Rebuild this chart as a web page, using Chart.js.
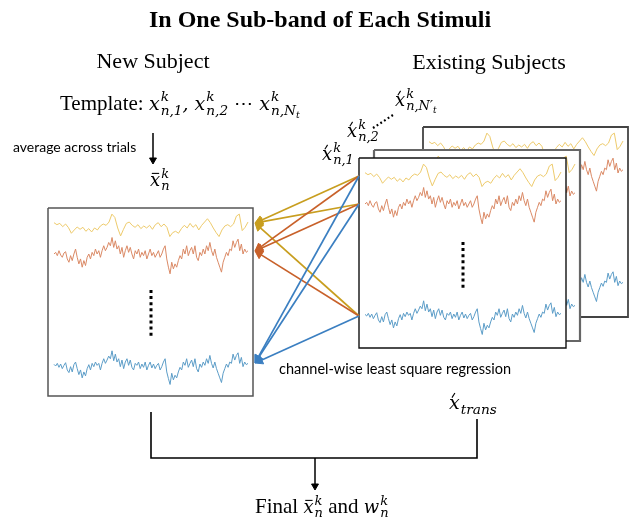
<!DOCTYPE html>
<html>
<head>
<meta charset="utf-8">
<script src="https://cdn.jsdelivr.net/npm/chart.js@4.4.0/dist/chart.umd.min.js"></script>
<style>
  html, body { margin: 0; padding: 0; background: #fff; overflow: hidden; }
  canvas { display: block; }
</style>
</head>
<body>
<canvas id="diagram" width="639" height="525"></canvas>
<script>
// Waveform samples (arbitrary units, up = positive)
const yellowWave = [10, 4, 8, -2, 6, -5, -22, -12, -3, -10, -4, -16, -8, -18, -6, -12, 0, 6, 2, 12, 36, 26, -6, -30,
  -10, 8, 12, 2, -4, 4, -8, 0, -6, 2, -10, 4, 10, -2, 6, -4, -32, -20, -16, -22, -8, 2, -6, 8, -4, 4, -12, 2, 12, 22,
  10, -6, -20, -32, -12, 0, 4, -2, 6, 30, 36, -14, -4, 12];
const orangeWave = [0, 5, -5, 10, -3, -10, 3, 7, -15, -25, -5, -20, 0, 15, -10, -30, -15, -40, -20, -35, -10, 0, -15, 5,
  -5, 15, 0, 10, -10, 10, 25, 10, 20, 35, 25, 50, 20, 40, 15, 25, 0, 20, -10, 10, 25, 5, 20, 0, -15, 10, 0, 15, -10, 5,
  -5, 10, -15, 0, 15, -5, 5, -10, 0, 10, -10, 0, 15, 25, -15, -40, -60, -25, -45, -30, -40, -20, -5, -15, 15, 0, 25, -5,
  10, 20, 0, 25, -10, -20, 5, -5, 15, 0, 25, 10, 35, 10, -5, 15, -10, -25, -40, -55, -25, -10, 5, -5, 15, 10, 40, 20,
  35, 45, 10, 30, 0, 15, 5, 10];
const blueWave = [5, 0, 8, -4, 6, -8, 2, 10, -12, -20, -2, -18, 4, 12, -8, -26, -12, -36, -18, -30, -8, 4, -12, 8, -2,
  12, 2, 8, -12, 8, 22, 8, 18, 30, 22, 46, 16, 36, 12, 22, -2, 18, -8, 12, 22, 2, 18, -4, -12, 8, 2, 12, -8, 6, -4, 12,
  -12, 2, 12, -6, 6, -8, 2, 8, -12, -2, 12, 22, -18, -38, -56, -22, -42, -28, -36, -18, -4, -12, 12, 2, 22, -4, 8, 18,
  -2, 22, -8, -18, 6, -4, 12, 2, 22, 8, 32, 8, -6, 12, -8, -22, -36, -50, -22, -8, 6, -4, 12, 8, 36, 18, 32, 40, 8, 26,
  -2, 12, 4, 8];

const channels = ["yellow", "orange", "blue"];
const waves = { yellow: yellowWave, orange: orangeWave, blue: blueWave };
const waveColors = { yellow: "#EECB6C", orange: "#DB8A66", blue: "#5C9DC8" };
const arrowColors = { yellow: "#C89E1F", orange: "#C8612A", blue: "#3B7FC1" };

// Layout (canvas pixels)
const rowOffsets = { yellow: 18, orange: 46, blue: 158 };
const ampScale = 0.33;
const leftBox = { x: 48, y: 208, w: 205, h: 188, color: "#555", width: 1.5 };
const frontBox = { x: 359, y: 158, w: 207, h: 190, color: "#111", width: 1.4 };
const middleBox = { x: 374, y: 150, w: 206, h: 191, color: "#666", width: 2.2 };
const backBox = { x: 423, y: 127, w: 205, h: 190, color: "#444", width: 1.8 };

const datasets = [];

function boxDataset(b) {
  return {
    data: [
      { x: b.x, y: b.y }, { x: b.x + b.w, y: b.y }, { x: b.x + b.w, y: b.y + b.h },
      { x: b.x, y: b.y + b.h }, { x: b.x, y: b.y }
    ],
    borderColor: b.color, borderWidth: b.width, backgroundColor: "#fff", fill: "shape", pointRadius: 0
  };
}

function waveDataset(b, ch) {
  const wave = waves[ch];
  const x0 = b.x + 6, x1 = b.x + b.w - 5;
  const yc = b.y + rowOffsets[ch];
  return {
    data: wave.map((v, i) => ({ x: x0 + i * (x1 - x0) / (wave.length - 1), y: yc - v * ampScale })),
    borderColor: waveColors[ch], borderWidth: 1, pointRadius: 0, fill: false
  };
}

function lineDataset(pts, color, width, dash) {
  return {
    data: pts.map(p => ({ x: p[0], y: p[1] })),
    borderColor: color, borderWidth: width, borderDash: dash || [], borderCapStyle: "butt",
    pointRadius: 0, fill: false
  };
}

function arrowDataset(from, tip, color, head, width) {
  const dx = tip[0] - from[0], dy = tip[1] - from[1];
  const len = Math.hypot(dx, dy);
  const end = [tip[0] - dx / len * head, tip[1] - dy / len * head];
  const ang = Math.atan2(dx, -dy) * 180 / Math.PI;
  return {
    data: [{ x: from[0], y: from[1] }, { x: end[0], y: end[1] }],
    borderColor: color, borderWidth: width || 1.7, fill: false,
    pointStyle: "triangle", pointRadius: [0, head], pointRotation: [0, ang],
    pointBackgroundColor: color, pointBorderColor: color, pointBorderWidth: 1
  };
}

// stacked subject boxes, back to front
[backBox, middleBox, frontBox].forEach(b => {
  datasets.push(boxDataset(b));
  channels.forEach(ch => datasets.push(waveDataset(b, ch)));
});
datasets.push(lineDataset([[463, 242], [463, 289]], "#000", 3, [3, 3.1]));

// new subject box
datasets.push(boxDataset(leftBox));
channels.forEach(ch => datasets.push(waveDataset(leftBox, ch)));
datasets.push(lineDataset([[151, 290], [151, 337]], "#000", 3, [3, 3.1]));

// regression arrows: every existing channel -> each new-subject channel
channels.forEach(target => {
  channels.forEach(src => {
    datasets.push(arrowDataset(
      [frontBox.x, frontBox.y + rowOffsets[src]],
      [leftBox.x + leftBox.w + 2, leftBox.y + rowOffsets[target] - 3],
      arrowColors[target], 5));
  });
});

// average arrow, bracket and final arrow
datasets.push(arrowDataset([153, 133], [153, 164], "#000", 4, 1.5));
datasets.push(lineDataset([[151, 412], [151, 458], [477, 458], [477, 419]], "#000", 1.6));
datasets.push(arrowDataset([315, 458], [315, 490], "#000", 4, 1.5));
datasets.push(lineDataset([[373, 128], [393, 115]], "#000", 2.2, [1.8, 2.6]));

// later datasets sit on top
datasets.forEach((d, i) => { d.order = datasets.length - i; });

// text and math labels
const serif = '"Liberation Serif", "Times New Roman", serif';
const mathFont = '"DejaVu Serif", serif';
const sans = 'Lato, "Open Sans", sans-serif';

function mathTerm(ctx, x, y, size, base, accent, sup, sub, subsub) {
  ctx.textAlign = "left";
  ctx.font = `italic ${size}px ${mathFont}`;
  ctx.fillText(base, x, y);
  const bw = ctx.measureText(base).width;
  ctx.lineWidth = size * 0.06;
  ctx.beginPath();
  if (accent === "acute") {
    ctx.moveTo(x + bw * 0.28, y - size * 0.6);
    ctx.lineTo(x + bw * 0.55, y - size * 0.84);
  } else if (accent === "bar") {
    ctx.moveTo(x + bw * 0.18, y - size * 0.7);
    ctx.lineTo(x + bw * 0.9, y - size * 0.7);
  }
  ctx.stroke();
  const sx = x + bw + 1;
  const small = size * 0.72;
  ctx.font = `italic ${small}px ${mathFont}`;
  let supW = 0, subW = 0;
  if (sup) { ctx.fillText(sup, sx, y - size * 0.45); supW = ctx.measureText(sup).width; }
  if (sub) {
    ctx.fillText(sub, sx, y + size * 0.24);
    subW = ctx.measureText(sub).width;
    if (subsub) {
      ctx.font = `italic ${size * 0.5}px ${mathFont}`;
      ctx.fillText(subsub, sx + subW, y + size * 0.4);
      subW += ctx.measureText(subsub).width;
    }
  }
  return x + bw + 1 + Math.max(supW, subW);
}

function text(ctx, str, x, y, font, align) {
  ctx.font = font;
  ctx.textAlign = align || "left";
  ctx.fillText(str, x, y);
  return x + ctx.measureText(str).width;
}

const labelsPlugin = {
  id: "labels",
  afterDraw(chart) {
    const ctx = chart.ctx;
    const px = v => chart.scales.x.getPixelForValue(v);
    const py = v => chart.scales.y.getPixelForValue(v);
    ctx.save();
    ctx.fillStyle = "#000";
    ctx.strokeStyle = "#000";
    ctx.textBaseline = "alphabetic";

    text(ctx, "In One Sub-band of Each Stimuli", px(320), py(27), `bold 24px ${serif}`, "center");
    text(ctx, "New Subject", px(153), py(68), `22px ${serif}`, "center");
    text(ctx, "Existing Subjects", px(489), py(69), `22px ${serif}`, "center");

    let x = text(ctx, "Template: ", px(60), py(110), `21px ${serif}`);
    x = mathTerm(ctx, x, py(110), 19, "x", null, "k", "n,1");
    x = text(ctx, ", ", x, py(110), `italic 19px ${mathFont}`);
    x = mathTerm(ctx, x, py(110), 19, "x", null, "k", "n,2");
    x = text(ctx, " \u22EF ", x, py(110), `19px ${mathFont}`);
    mathTerm(ctx, x, py(110), 19, "x", null, "k", "n,N", "t");

    text(ctx, "average across trials", px(13), py(152), `14px ${sans}`);
    mathTerm(ctx, px(150), py(186), 18, "x", "bar", "k", "n");

    mathTerm(ctx, px(322), py(160), 18, "x", "acute", "k", "n,1");
    mathTerm(ctx, px(347), py(137), 18, "x", "acute", "k", "n,2");
    mathTerm(ctx, px(395), py(106), 18, "x", "acute", "k", "n,N\u2032", "t");

    text(ctx, "channel-wise least square regression", px(279), py(374), `14.5px ${sans}`);
    mathTerm(ctx, px(449), py(409), 19, "x", "acute", null, "trans");

    x = text(ctx, "Final ", px(255), py(513), `21px ${serif}`);
    x = mathTerm(ctx, x, py(513), 18, "x", "bar", "k", "n");
    x = text(ctx, " and ", x, py(513), `21px ${serif}`);
    mathTerm(ctx, x, py(513), 18, "w", null, "k", "n");
    ctx.restore();
  }
};

new Chart(document.getElementById("diagram").getContext("2d"), {
  type: "line",
  data: { datasets: datasets },
  options: {
    responsive: false,
    animation: false,
    events: [],
    devicePixelRatio: 1,
    layout: { padding: 0, autoPadding: false },
    elements: { line: { tension: 0 } },
    plugins: { legend: { display: false }, tooltip: { enabled: false } },
    scales: {
      x: { type: "linear", min: 0, max: 639, display: false },
      y: { type: "linear", min: 0, max: 525, reverse: true, display: false }
    }
  },
  plugins: [labelsPlugin]
});
</script>
</body>
</html>
